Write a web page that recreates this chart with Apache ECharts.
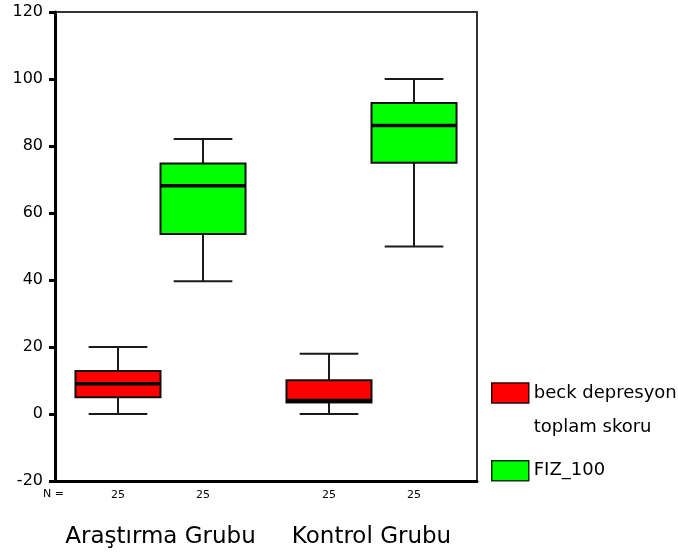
<!DOCTYPE html>
<html><head><meta charset="utf-8">
<script src="https://cdn.jsdelivr.net/npm/echarts@6/dist/echarts.min.js"></script>
<style>html,body{margin:0;padding:0;background:#fff}#c{width:678px;height:552px}</style>
</head><body><div id="c"></div>
<script>
const categories = ['Araştırma Grubu', 'Kontrol Grubu'];
const yMinTick = -20, yMaxTick = 120, yStep = 20;
const seriesNames = ['beck depresyon toplam skoru', 'FIZ_100'];
const beckMin = [0, 0];
const beckQ1 = [5, 3.4];
const beckMedian = [9, 4];
const beckQ3 = [12.8, 10.1];
const beckMax = [20, 18];
const beckN = [25, 25];
const fizMin = [39.6, 50];
const fizQ1 = [53.7, 75];
const fizMedian = [68.1, 86.1];
const fizQ3 = [74.8, 92.8];
const fizMax = [82.1, 100];
const fizN = [25, 25];

const FONT = 'DejaVu Sans';
function makeData(mn, q1, md, q3, mx, n) {
  return categories.map((c, i) => [i, mn[i], q1[i], md[i], q3[i], mx[i], n[i]]);
}
function renderBox(side, fill) {
  return function (params, api) {
    const cat = api.value(0);
    const band = api.size([1, 0])[0];
    const w = band * 0.403;
    const capW = w * 0.69;
    const cx = api.coord([cat, 0])[0] + side * w / 2;
    const y = v => api.coord([cat, v])[1];
    const yMin = y(api.value(1)), yQ1 = y(api.value(2)), yMed = y(api.value(3)),
          yQ3 = y(api.value(4)), yMax = y(api.value(5));
    const ln = '#1a1a1a';
    const cs = params.coordSys;
    return { type: 'group', children: [
      { type: 'line', shape: { x1: cx, y1: yMax, x2: cx, y2: yQ3 }, style: { stroke: ln, lineWidth: 2 } },
      { type: 'line', shape: { x1: cx, y1: yQ1, x2: cx, y2: yMin }, style: { stroke: ln, lineWidth: 2 } },
      { type: 'line', shape: { x1: cx - capW / 2, y1: yMax, x2: cx + capW / 2, y2: yMax }, style: { stroke: ln, lineWidth: 2 } },
      { type: 'line', shape: { x1: cx - capW / 2, y1: yMin, x2: cx + capW / 2, y2: yMin }, style: { stroke: ln, lineWidth: 2 } },
      { type: 'rect', shape: { x: cx - w / 2, y: yQ3, width: w, height: yQ1 - yQ3 }, style: { fill: fill, stroke: '#111', lineWidth: 2 } },
      { type: 'line', shape: { x1: cx - w / 2, y1: yMed, x2: cx + w / 2, y2: yMed }, style: { stroke: '#000', lineWidth: 3.5 } },
      { type: 'text', x: cx, y: cs.y + cs.height + 14, style: { text: String(api.value(6)), fontSize: 11, fontFamily: FONT, fill: '#000', align: 'center', verticalAlign: 'middle' } }
    ] };
  };
}

const chart = echarts.init(document.getElementById('c'), null, { renderer: 'canvas' });
chart.setOption({
  animation: false,
  backgroundColor: '#fff',
  grid: { left: 55, right: 201, top: 12, bottom: 71, show: true, borderColor: '#333', borderWidth: 2 },
  legend: {
    orient: 'vertical', left: 491, top: 342, padding: 0, itemWidth: 37, itemHeight: 20, itemGap: 16, icon: 'rect',
    selectedMode: false,
    formatter: name => name === seriesNames[0] ? '\nbeck depresyon\ntoplam skoru' : name,
    textStyle: { fontFamily: FONT, fontSize: 18, color: '#000' },
    data: [
      { name: seriesNames[0], itemStyle: { color: '#ff0000', borderColor: '#300', borderWidth: 1.5 }, textStyle: { lineHeight: 34 } },
      { name: seriesNames[1], itemStyle: { color: '#00ff00', borderColor: '#030', borderWidth: 1.5 } }
    ]
  },
  graphic: [
    { type: 'text', left: 43, top: 489, style: { text: 'N =', fontSize: 11, fontFamily: FONT, fill: '#000' } }
  ],
  xAxis: {
    type: 'category', data: categories, boundaryGap: true,
    axisLine: { onZero: false, lineStyle: { color: '#000', width: 3 } },
    axisTick: { alignWithLabel: true, length: 5, lineStyle: { color: '#000', width: 5 } },
    axisLabel: { interval: 0, margin: 45, fontSize: 23, fontFamily: FONT, color: '#000' },
    splitLine: { show: false }
  },
  yAxis: {
    type: 'value', min: yMinTick, max: yMaxTick, interval: yStep,
    axisLine: { show: true, lineStyle: { color: '#000', width: 3 } },
    axisTick: { show: true, length: 6, lineStyle: { color: '#000', width: 3 } },
    axisLabel: { margin: 12, fontSize: 16, fontFamily: FONT, color: '#000' },
    splitLine: { show: false }
  },
  series: [
    { name: seriesNames[0], type: 'custom', itemStyle: { color: '#ff0000' },
      encode: { x: 0, y: [1, 2, 3, 4, 5] },
      renderItem: renderBox(-1, '#ff0000'),
      data: makeData(beckMin, beckQ1, beckMedian, beckQ3, beckMax, beckN) },
    { name: seriesNames[1], type: 'custom', itemStyle: { color: '#00ff00' },
      encode: { x: 0, y: [1, 2, 3, 4, 5] },
      renderItem: renderBox(1, '#00ff00'),
      data: makeData(fizMin, fizQ1, fizMedian, fizQ3, fizMax, fizN) }
  ]
});
</script></body></html>
